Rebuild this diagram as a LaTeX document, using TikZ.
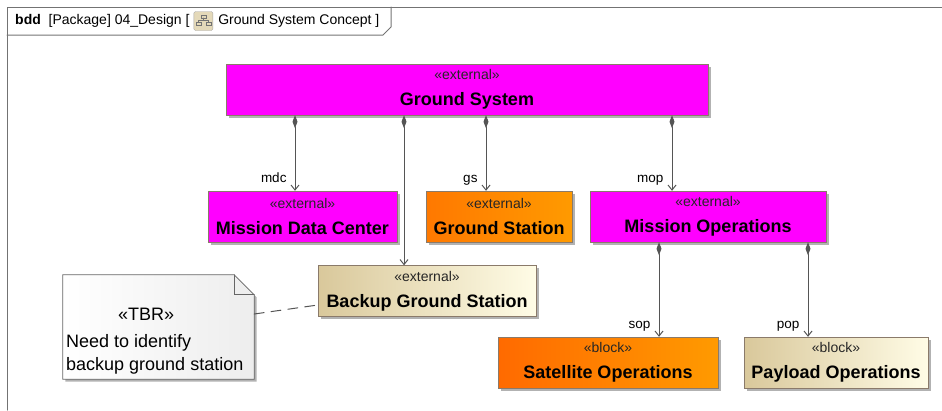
\documentclass[tikz,border=0pt]{standalone}
\usepackage{fontspec}
\setmainfont{Liberation Sans}
\usepackage{tikz}
\usetikzlibrary{arrows.meta,positioning,shadows,calc}
\definecolor{sysmagenta}{HTML}{FF00FF}
\definecolor{orangeL}{HTML}{FF6A00}
\definecolor{orangeR}{HTML}{FF9A00}
\definecolor{tanL}{HTML}{D9C89B}
\definecolor{tanR}{HTML}{FFFCE6}
\definecolor{edgegrey}{HTML}{555555}
\definecolor{boxline}{HTML}{8A7A6A}
\newcommand{\stereo}[1]{{\fontsize{14}{15}\selectfont\color{black!85}«#1»}}
\newcommand{\bname}[1]{{\fontsize{18}{20}\selectfont\bfseries #1}}
\tikzset{block/.style={draw=boxline,rectangle,align=center,inner sep=0pt,minimum height=51pt,
    font=\fontsize{18}{20}\selectfont,
    drop shadow={shadow xshift=2.5pt,shadow yshift=-2.5pt,fill=black!30,opacity=1}}}
\tikzset{extbox/.style={block,fill=sysmagenta}}
\tikzset{orangebox/.style={block,left color=orangeL,right color=orangeR}}
\tikzset{tanbox/.style={block,left color=tanL,right color=tanR}}

\begin{document}
\begin{tikzpicture}[x=1pt, y=-1pt, >={Straight Barb[length=5pt,width=8pt]}, line cap=round]
\tikzstyle{part}=[draw=edgegrey, line width=1pt, {Diamond[length=13pt,width=5pt,fill=edgegrey]}->]
\tikzstyle{lbl}=[anchor=base east, inner sep=0pt, xshift=-8pt, yshift=8pt, font=\fontsize{13.5}{15}\selectfont]
\useasboundingbox (0,0) rectangle (942,410);
    % frame and header tab
    \draw[black!55, line width=1pt] (7,410) -- (7,7) -- (942,7);
    \draw[black!55, line width=1pt] (7,35) -- (383,35) -- (391,27) -- (391,7);
    \node[anchor=west, inner sep=0pt, font=\fontsize{14}{16}\selectfont] (hdr) at (15,21) {\textbf{bdd}\ \ [Package] 04\_Design [};
    \node[right=4pt of hdr, draw=black!35, fill=tanL!70, rounded corners=1.5pt, minimum size=19pt, inner sep=0pt] (ico) {};
    \draw[black!55, line width=0.6pt] ($(ico.center)+(-2.5,-6)$) rectangle ++(5,3)
        ($(ico.center)+(0,-3)$) -- ++(0,2) -- ++(-5,0) -- ++(0,2)
        ($(ico.center)+(0,-1)$) -- ++(5,0) -- ++(0,2)
        ($(ico.center)+(-7.5,1)$) rectangle ++(5,3)
        ($(ico.center)+(2.5,1)$) rectangle ++(5,3);
    \node[right=5pt of ico, inner sep=0pt, font=\fontsize{14}{16}\selectfont] (hdrname) {Ground System Concept ]};

    % blocks
    \node[extbox, minimum width=482pt] (gsys) at (467,89.5) {\stereo{external}\\[6pt]\bname{Ground System}};
    \node[extbox, minimum width=189pt] (mdc) at (302.5,216.5) {\stereo{external}\\[6pt]\bname{Mission Data Center}};
    \node[orangebox, minimum width=146pt, left color=orangeL!70!orangeR] (gstat) at (499,216.5) {\stereo{external}\\[6pt]\bname{Ground Station}};
    \node[extbox, minimum width=236pt] (mops) at (708,216.5) {\stereo{external}\\[6pt]\bname{Mission Operations}};
    \node[tanbox, minimum width=218pt] (backup) at (427,291) {\stereo{external}\\[6pt]\bname{Backup Ground Station}};
    \node[orangebox, minimum width=220pt] (satops) at (608,362.5) {\stereo{block}\\[6pt]\bname{Satellite Operations}};
    \node[tanbox, minimum width=184pt] (payops) at (836,362.5) {\stereo{block}\\[6pt]\bname{Payload Operations}};

    % part associations
    \draw[part] ([xshift=-7.5pt]mdc.north |- gsys.south) -- ([xshift=-7.5pt]mdc.north) node[lbl] {mdc};
    \draw[part] ([xshift=-23pt]backup.north |- gsys.south) -- ([xshift=-23pt]backup.north);
    \draw[part] ([xshift=-13pt]gstat.north |- gsys.south) -- ([xshift=-13pt]gstat.north) node[lbl] {gs};
    \draw[part] ([xshift=-36pt]mops.north |- gsys.south) -- ([xshift=-36pt]mops.north) node[lbl] {mop};
    \draw[part] ([xshift=51pt]satops.north |- mops.south) -- ([xshift=51pt]satops.north) node[lbl] {sop};
    \draw[part] ([xshift=-28pt]payops.north |- mops.south) -- ([xshift=-28pt]payops.north) node[lbl] {pop};

    % note
    \node[minimum width=191pt, minimum height=104pt, inner sep=0pt] (tbr) at (158.5,327) {};
    \path[draw=black!60, line width=0.8pt, left color=white, right color=black!7,
        drop shadow={shadow xshift=2.5pt,shadow yshift=-2.5pt,fill=black!30,opacity=1}]
        (tbr.north west) -- ([xshift=-20pt]tbr.north east) -- ([yshift=-20pt]tbr.north east)
        -- (tbr.south east) -- (tbr.south west) -- cycle;
    \draw[black!60, line width=0.8pt] ([xshift=-20pt]tbr.north east) |- ([yshift=-20pt]tbr.north east);
    \node[anchor=north west, align=left, inner sep=0pt, font=\fontsize{18}{23}\selectfont] (tbrtext) at (66,308)
        {\makebox[160pt]{«TBR»}\\[4pt]Need to identify\\backup ground station};
    \draw[edgegrey, line width=1pt, dash pattern=on 10pt off 7pt] ([yshift=13pt]tbr.east) -- ([yshift=-14pt]backup.west);
\end{tikzpicture}
\end{document}
